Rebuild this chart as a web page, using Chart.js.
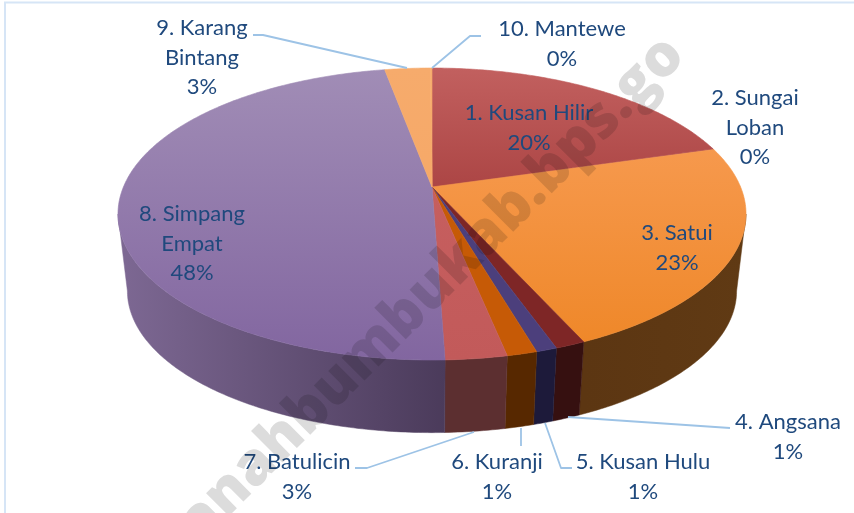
<!DOCTYPE html>
<html><head><meta charset="utf-8">
<style>html,body{margin:0;padding:0;background:#fff}canvas{display:block}</style>
<script src="https://cdn.jsdelivr.net/npm/chart.js@4"></script>
</head><body><canvas id="c" width="854" height="513"></canvas>
<script>
const categories = ['1. Kusan Hilir','2. Sungai Loban','3. Satui','4. Angsana','5. Kusan Hulu','6. Kuranji','7. Batulicin','8. Simpang Empat','9. Karang Bintang','10. Mantewe'];
const shares = [20.4,0.1,22.8,1.3,0.9,1.3,2.65,47.65,2.8,0.1];
const watermark = 'tanahbumbukab.bps.go';

// colours: top surface (upper, lower), side wall (left, right)
const topColors = [['#c2605f','#8c1f1f'],['#c2605f','#8c1f1f'],['#f9a05c','#ee8626'],['#7e2626','#7e2626'],['#4c3f7c','#4c3f7c'],['#c65a06','#c65a06'],['#c96262','#c25a5a'],['#a18db6','#8266a0'],['#f6ab6c','#f6a562'],['#f6ab6c','#f6a562']];
const sideColors = [['#6e3333','#6e3333'],['#6e3333','#6e3333'],['#5c3612','#603a14'],['#361010','#361010'],['#1d1a3a','#1d1a3a'],['#572800','#572800'],['#5c2f30','#6c3535'],['#7d6893','#4b3b5b'],['#7a4a1c','#7a4a1c'],['#7a4a1c','#7a4a1c']];

// geometry of the tilted disc
const G = {ax:432, ay:187, a:308.6, b:141, k:0.185, ecy:214, scale:0.97, bcy:291, top:68, bottom:360};
function rim(t){const u=Math.cos(t),v=Math.sin(t),w=1-G.k*v;return [G.ax+G.a*u/w,G.ay+G.b*v/w];}
function low(p){return [G.ax+G.scale*(p[0]-G.ax),G.bcy+G.scale*(p[1]-G.ecy)];}

// label placement: anchor centre x, first line middle y, wrap after second word
const place = [[529,113,0],[755,98,1],[677,233,0],[788,422,0],[643,462,0],[497,462,0],[297,462,0],[192,214,1],[202,28,1],[562,29,0]];
const leaders = [[[253,35],[263,35],[407,68]],[[481,36],[470,36],[432,68]],[[355,468],[367,468],[474,432]],[[521,446],[521,428]],[[572,468],[561,468],[545,423]],[[730,428],[568,417]]];

const pie3d = {
  id:'pie3d',
  beforeDatasetDraw(chart){
    const ctx=chart.ctx, arcs=chart.getDatasetMeta(0).data;
    ctx.save();ctx.strokeStyle='#d6e5f6';ctx.lineWidth=2;ctx.beginPath();ctx.moveTo(5,513);ctx.lineTo(5,2.5);ctx.lineTo(854,2.5);ctx.stroke();ctx.restore();
    // side wall: one polygon per slice, only between the two silhouette folds
    const fold=Math.asin(G.k);
    arcs.forEach((arc,i)=>{
      const s0=Math.max(arc.startAngle,fold), s1=Math.min(arc.endAngle,Math.PI-fold);
      if(s1<=s0)return;
      const right=arc.startAngle<Math.PI/2;
      const g=ctx.createLinearGradient(i===7?120:(right?585:445),0,i===7?445:(right?745:510),0);
      g.addColorStop(0,sideColors[i][0]);g.addColorStop(1,sideColors[i][1]);
      ctx.fillStyle=g;ctx.strokeStyle=g;ctx.lineWidth=0.5;
      const n=Math.max(2,Math.ceil((s1-s0)/0.012));
      ctx.beginPath();
      const pts=[];
      for(let s=0;s<=n;s++)pts.push(rim(s0+(s1-s0)*s/n));
      pts.forEach((p,j)=>j?ctx.lineTo(p[0],p[1]):ctx.moveTo(p[0],p[1]));
      for(let j=n;j>=0;j--){const q=low(pts[j]);ctx.lineTo(q[0],q[1]);}
      ctx.closePath();ctx.fill();ctx.stroke();
    });
    // top surface
    arcs.forEach((arc,i)=>{
      const g=ctx.createLinearGradient(0,G.top,0,G.bottom);
      g.addColorStop(0,topColors[i][0]);g.addColorStop(1,topColors[i][1]);
      ctx.fillStyle=g;ctx.strokeStyle=g;ctx.lineWidth=0.6;
      ctx.beginPath();ctx.moveTo(G.ax,G.ay);
      const n=Math.max(2,Math.ceil((arc.endAngle-arc.startAngle)/0.012));
      for(let s=0;s<=n;s++){const p=rim(arc.startAngle+(arc.endAngle-arc.startAngle)*s/n);ctx.lineTo(p[0],p[1]);}
      ctx.closePath();ctx.fill();ctx.stroke();
    });
    return false;
  },
  afterDatasetsDraw(chart){
    const ctx=chart.ctx;
    ctx.save();
    ctx.strokeStyle='#9dc3e6';ctx.lineWidth=1.8;ctx.lineJoin='round';
    leaders.forEach(l=>{ctx.beginPath();l.forEach((p,j)=>j?ctx.lineTo(p[0],p[1]):ctx.moveTo(p[0],p[1]));ctx.stroke();});
    ctx.font='22px Lato';ctx.fillStyle='#1f497d';ctx.textAlign='center';ctx.textBaseline='middle';
    const total=shares.reduce((a,b)=>a+b,0);
    categories.forEach((name,i)=>{
      const [x,y,wrap]=place[i];
      let lines=[name];
      if(wrap){const w=name.split(' ');lines=[w.slice(0,2).join(' '),w.slice(2).join(' ')];}
      lines.push(Math.round(shares[i]/total*100)+'%');
      lines.forEach((t,j)=>ctx.fillText(t,x,y+j*29.5));
    });
    // watermark
    ctx.globalCompositeOperation='multiply';
    ctx.translate(687,58);ctx.rotate(-Math.PI/4);
    ctx.font='800 58.5px "Open Sans"';ctx.fillStyle='#dcdcdc';ctx.textAlign='right';ctx.textBaseline='alphabetic';
    ctx.fillText(watermark,0,0);
    ctx.restore();
  }
};

new Chart(document.getElementById('c'),{
  type:'pie',
  data:{labels:categories,datasets:[{data:shares,backgroundColor:topColors.map(c=>c[1]),borderWidth:0}]},
  options:{responsive:false,animation:false,plugins:{legend:{display:false},tooltip:{enabled:false}}},
  plugins:[pie3d]
});
</script></body></html>
